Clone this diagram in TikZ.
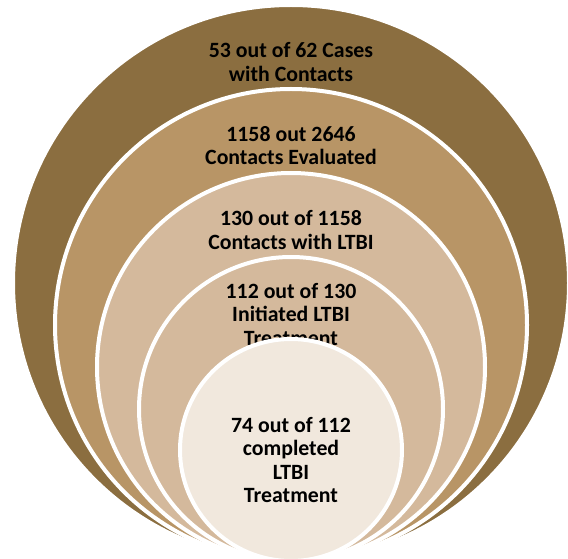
\documentclass[tikz,border=0pt]{standalone}
\usepackage{fontspec}
\setmainfont{Carlito}
\usepackage{tikz}

\definecolor{ringdark}{RGB}{139,110,64}
\definecolor{ringmid}{RGB}{184,149,102}
\definecolor{ringlight}{RGB}{212,185,156}
\definecolor{ringcore}{RGB}{241,232,221}

\begin{document}
\begin{tikzpicture}[
  x=1pt, y=1pt,
  ring/.style={draw=white, line width=4pt},
  every node/.style={font=\bfseries\fontsize{21.8}{23.5}\selectfont, align=center}
]
  \useasboundingbox (0,0) rectangle (568,558);

  % circles share one bottom point, drawn from the outside in
  \draw[ring, fill=ringdark]  (291,275) circle (278);
  \node (cases) at (291,496) {53 out of 62 Cases\\with Contacts};

  \draw[ring, fill=ringmid]   (291,233) circle (236);
  \node (evaluated) at (291,412.5) {1158 out 2646\\Contacts Evaluated};

  \draw[ring, fill=ringlight] (291,191) circle (194);
  \node (ltbi) at (291,328) {130 out of 1158\\Contacts with LTBI};

  \draw[ring, fill=ringlight] (291,149) circle (152);
  \node (initiated) at (291,243.5) {112 out of 130\\Initiated LTBI\\Treatment};

  % innermost circle covers the last line above
  \draw[ring, fill=ringcore]  (291,108) circle (111);
  \node (completed) at (291,98) {74 out of 112\\completed\\LTBI\\Treatment};
\end{tikzpicture}
\end{document}
